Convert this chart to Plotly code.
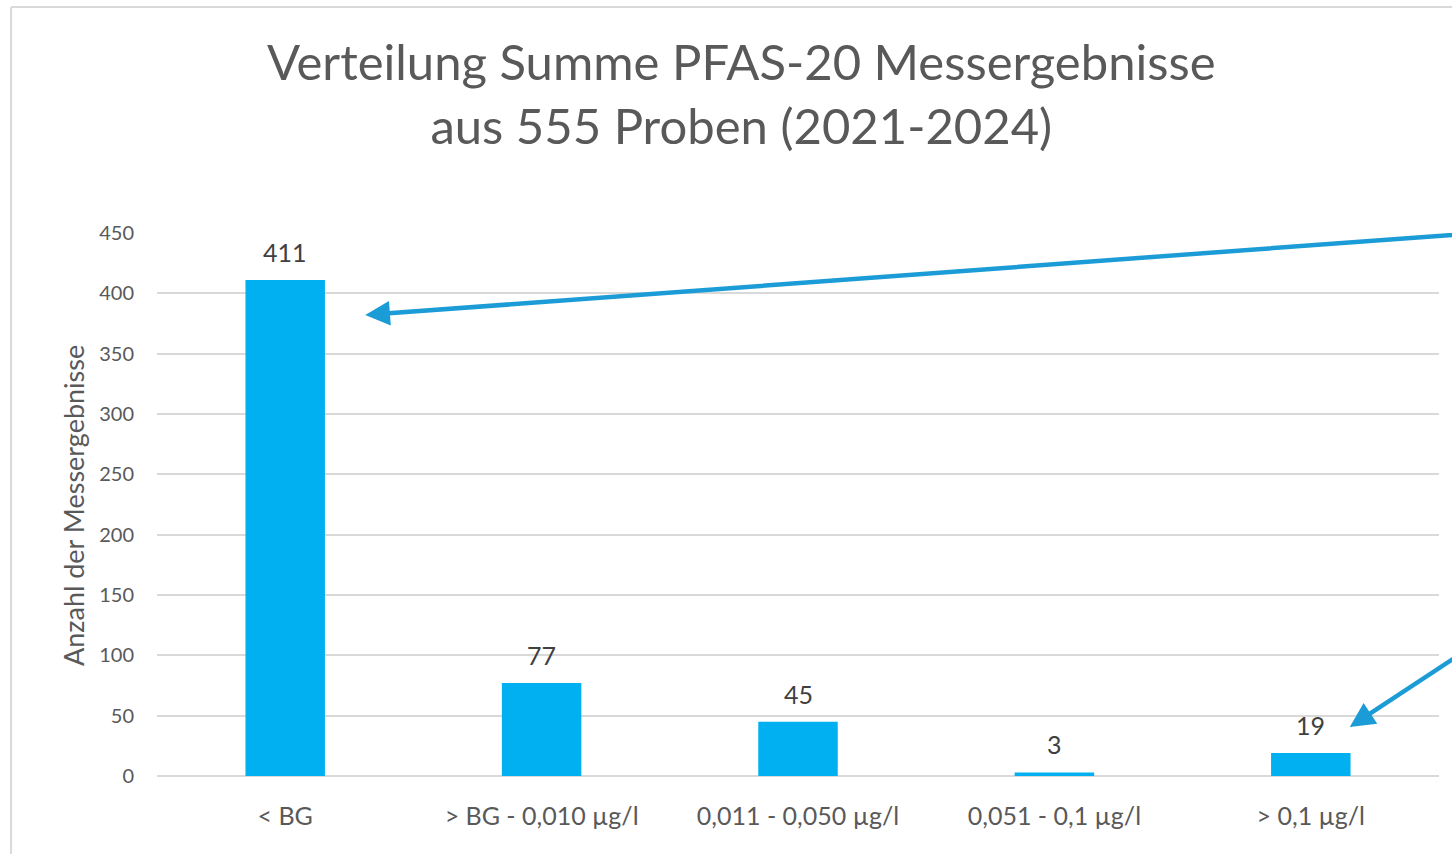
import plotly.graph_objects as go

categories = ["< BG", "> BG - 0,010 µg/l", "0,011 - 0,050 µg/l", "0,051 - 0,1 µg/l", "> 0,1 µg/l"]
counts = [411, 77, 45, 3, 19]
y_ticks = [0, 50, 100, 150, 200, 250, 300, 350, 400, 450]

FONT = "Lato, 'Open Sans', sans-serif"
W, H = 1452, 854
L = 157
R = W - 1439.5
T = 233
B = H - 776
PW = W - L - R
PH = H - T - B

def px2paper(rx):
    return (rx - L) / PW

def py2paper(ry):
    return (H - B - ry) / PH

fig = go.Figure(go.Bar(
    x=categories, y=counts, width=0.31,
    marker=dict(color="#00B0F0", line=dict(width=0)),
    hoverinfo="x+y",
))

# data labels
for c, v in zip(categories, counts):
    fig.add_annotation(
        x=c, y=v, xref="x", yref="y", text=str(v), showarrow=False,
        yanchor="bottom", yshift=11,
        font=dict(family=FONT, size=25, color="#404040"),
    )

fig.update_layout(
    width=W, height=H,
    margin=dict(l=L, r=R, t=T, b=B, pad=0),
    paper_bgcolor="white", plot_bgcolor="white",
    showlegend=False,
    bargap=0.69,
)

fig.update_yaxes(
    range=[0, 450], tickvals=y_ticks, showgrid=True, gridcolor="#d9d9d9", gridwidth=1.5,
    zeroline=True, zerolinecolor="#d9d9d9", zerolinewidth=1.5, showline=False,
    tickfont=dict(family=FONT, size=20, color="#595959"), ticks="", ticklabelstandoff=22,
)
fig.update_xaxes(
    range=[-0.5, 4.5], autorange=False,
    showgrid=False, showline=False, ticks="",
    tickfont=dict(family=FONT, size=25, color="#595959"), ticklabelstandoff=23,
)

# title
fig.add_annotation(
    text="Verteilung Summe PFAS-20 Messergebnisse<br>aus 555 Proben (2021-2024)",
    xref="paper", yref="paper", x=px2paper(741.5), y=py2paper(93),
    xanchor="center", yanchor="middle", showarrow=False,
    font=dict(family=FONT, size=49, color="#595959"),
)

# axis title
fig.add_annotation(
    text="Anzahl der Messergebnisse", xref="paper", yref="paper",
    x=px2paper(74), y=py2paper(506), showarrow=False, textangle=-90,
    font=dict(family=FONT, size=27, color="#595959"), xanchor="center", yanchor="middle",
)

# arrows
arrow_color = "#1C9CD6"
fig.add_annotation(
    x=0.312, y=382, xref="x", yref="y", ax=5.13, ay=457.5, axref="x", ayref="y",
    text="", showarrow=True, arrowhead=2, arrowsize=1.1, arrowwidth=4.5, arrowcolor=arrow_color,
    standoff=0,
)
fig.add_annotation(
    x=4.152, y=40.6, xref="x", yref="y", ax=4.737, ay=122.6, axref="x", ayref="y",
    text="", showarrow=True, arrowhead=2, arrowsize=1.1, arrowwidth=4.5, arrowcolor=arrow_color,
    standoff=0,
)

# chart border (top and left edges visible)
fig.add_shape(type="line", xref="paper", yref="paper",
              x0=px2paper(11), x1=px2paper(1500), y0=py2paper(7), y1=py2paper(7),
              line=dict(color="#d9d9d9", width=2))
fig.add_shape(type="line", xref="paper", yref="paper",
              x0=px2paper(11), x1=px2paper(11), y0=py2paper(7), y1=py2paper(900),
              line=dict(color="#d9d9d9", width=2))

fig.write_html(
    "out.html",
    config={"displayModeBar": False},
    post_script="document.body.style.margin='0px';document.body.style.overflow='hidden';",
)
